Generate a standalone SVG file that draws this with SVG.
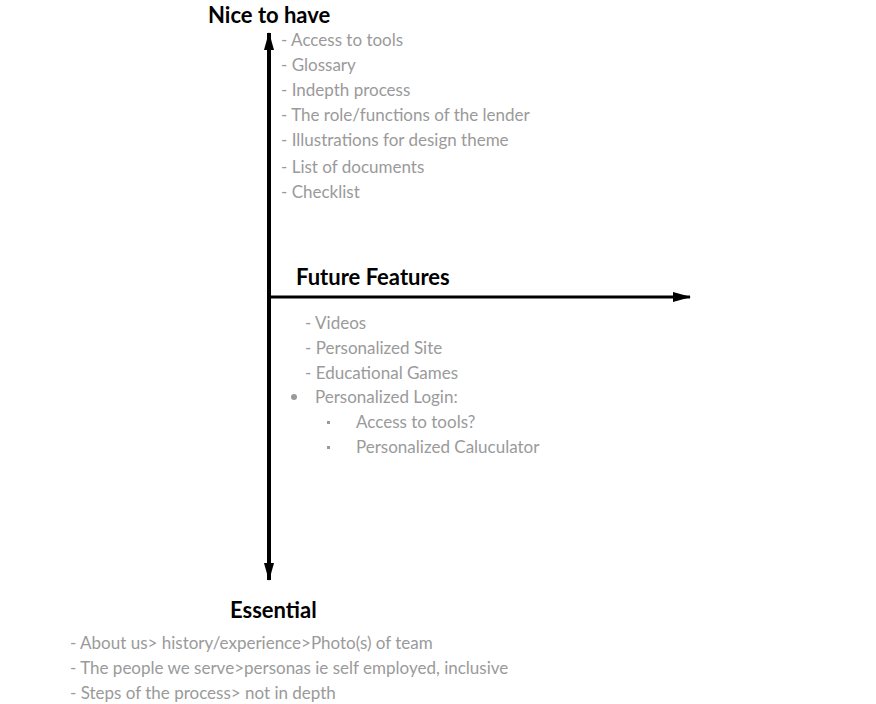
<svg xmlns="http://www.w3.org/2000/svg" width="876" height="704" viewBox="0 0 876 704">
<style>
.t{font-family:Lato,"Noto Sans",sans-serif;font-size:22px;fill:#000;font-weight:bold}
.g{font-family:Lato,"Noto Sans",sans-serif;font-size:17px;fill:#9a9a9a}
</style>
<defs>
<marker id="a" viewBox="0 0 18 10" refX="17" refY="5" markerWidth="18" markerHeight="10" markerUnits="userSpaceOnUse" orient="auto-start-reverse"><path d="M0,0L18,5L0,10z" fill="#000"/></marker>
</defs>
<rect width="876" height="704" fill="#fff"/>
<g id="connectors">
<line x1="269" y1="33" x2="269" y2="580" stroke="#000" stroke-width="4" marker-start="url(#a)" marker-end="url(#a)"/>
<line x1="269" y1="297" x2="690" y2="297" stroke="#000" stroke-width="3" marker-end="url(#a)"/>
</g>
<g id="nice">
<text class="t" x="208" y="23">Nice to have</text>
<text class="g" x="281" y="46">- Access to tools</text>
<text class="g" x="281" y="71">- Glossary</text>
<text class="g" x="281" y="96">- Indepth process</text>
<text class="g" x="281" y="121">- The role/functions of the lender</text>
<text class="g" x="281" y="146">- Illustrations for design theme</text>
<text class="g" x="281" y="173">- List of documents</text>
<text class="g" x="281" y="198">- Checklist</text>
</g>
<g id="future">
<text class="t" x="296" y="285">Future Features</text>
<text class="g" x="305" y="329">- Videos</text>
<text class="g" x="305" y="354">- Personalized Site</text>
<text class="g" x="305" y="379">- Educational Games</text>
<circle cx="294" cy="397" r="3" fill="#9a9a9a"/>
<text class="g" x="315" y="403">Personalized Login:</text>
<rect x="327" y="421" width="3" height="3" fill="#9a9a9a"/>
<text class="g" x="356" y="428">Access to tools?</text>
<rect x="327" y="446" width="3" height="3" fill="#9a9a9a"/>
<text class="g" x="356" y="453">Personalized Caluculator</text>
</g>
<g id="essential">
<text class="t" x="230" y="618">Essential</text>
<text class="g" x="70" y="649">- About us&gt; history/experience&gt;Photo(s) of team</text>
<text class="g" x="70" y="674">- The people we serve&gt;personas ie self employed, inclusive</text>
<text class="g" x="70" y="699">- Steps of the process&gt; not in depth</text>
</g>
</svg>
